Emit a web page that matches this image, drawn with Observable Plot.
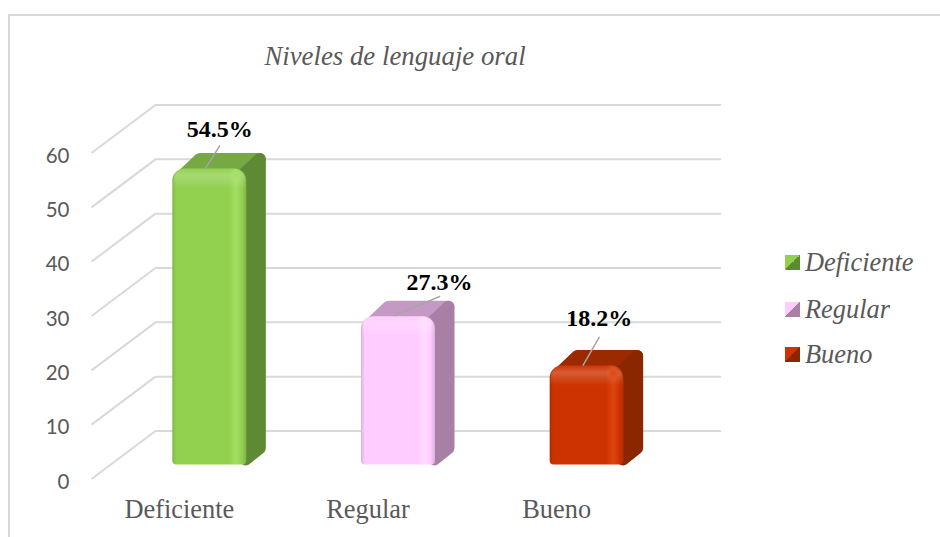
<!DOCTYPE html>
<html>
<head>
<meta charset="utf-8">
<script src="https://cdn.jsdelivr.net/npm/d3@7"></script>
<script src="https://cdn.jsdelivr.net/npm/@observablehq/plot@0.6"></script>
<style>
html,body{margin:0;padding:0;background:#fff;width:940px;height:537px;overflow:hidden}
#page{position:relative;width:940px;height:537px;overflow:hidden}
#edge{position:absolute;left:8px;top:14px;width:940px;height:540px;border-left:2px solid #d9d9d9;border-top:2px solid #d9d9d9;box-sizing:border-box}
#title{position:absolute;left:195px;width:400px;top:41px;text-align:center;font:italic 26.8px "Liberation Serif",serif;color:#595959}
#chart{position:absolute;left:0;top:0}
.lg{position:absolute;left:785px;font:italic 26.4px "Liberation Serif",serif;color:#595959;white-space:nowrap;line-height:30px;height:30px}
.lg i{position:absolute;left:0;top:8px;width:15px;height:15px}
.lg span{position:absolute;left:20px;top:0}
</style>
</head>
<body>
<div id="page">
<div id="edge"></div>
<div id="title">Niveles de lenguaje oral</div>
<div id="chart"></div>
<div id="legend"></div>
</div>
<script>
const categories = ["Deficiente", "Regular", "Bueno"];
const values = [54.5, 27.3, 18.2];
const labels = ["54.5%", "27.3%", "18.2%"];
const yTicks = [0, 10, 20, 30, 40, 50, 60];
const frontColors = ["#92d050", "#ffccff", "#cc3300"];
const edgeColors = ["#7fb545", "#ddb0dd", "#b02c00"];
const glowColors = ["#a2de62", "#ffdcff", "#dc4410"];
const topColors = ["#76a844", "#c49ac4", "#9c2a00"];
const sideColors = ["#5e8a35", "#a880a6", "#8a2600"];

const W = 940, H = 537;
const mL = 91, mR = 283, mT = 152.5, mB = 58.5;
const X = p => p * 3 / (W - mL - mR);
const V = p => p * 60 / (H - mT - mB);

const barCenter = i => i + 0.5;
const halfBar = X(37);
const depthX = X(19), depthV = V(16);
const corner = 6;
const shift = {dx: 24, dy: -14};

const defs = () => {
  const d = d3.create("svg:defs");
  categories.forEach((c, i) => {
    const g = d.append("linearGradient").attr("id", "front" + i);
    [[0, edgeColors[i]], [0.05, frontColors[i]], [0.76, frontColors[i]], [0.86, glowColors[i]],
     [0.94, frontColors[i]], [1, edgeColors[i]]].forEach(([o, col]) =>
      g.append("stop").attr("offset", o).attr("stop-color", col));
    const r = d.append("radialGradient").attr("id", "spot" + i);
    r.append("stop").attr("offset", 0).attr("stop-color", glowColors[i]);
    r.append("stop").attr("offset", 1).attr("stop-color", glowColors[i]).attr("stop-opacity", 0);
  });
  const t = d.append("linearGradient").attr("id", "bevel").attr("x2", 0).attr("y2", 1);
  t.append("stop").attr("offset", 0).attr("stop-color", "#fff").attr("stop-opacity", 0.02);
  t.append("stop").attr("offset", 0.35).attr("stop-color", "#fff").attr("stop-opacity", 0.2);
  t.append("stop").attr("offset", 1).attr("stop-color", "#fff").attr("stop-opacity", 0);
  return d.node();
};

const barMarks = categories.flatMap((c, i) => {
  const v = values[i], x1 = barCenter(i) - halfBar, x2 = barCenter(i) + halfBar;
  const top = [
    [x1 + X(7), v - V(9)],
    [x1 + depthX + X(8), v + depthV - V(corner)],
    [x2 + depthX - X(corner), v + depthV - V(corner)],
    [x2, v - V(8)]
  ];
  const side = [
    [x2 - X(1), V(5.6)],
    [x2 + depthX - X(corner), V(17)],
    [x2 + depthX - X(corner), v + depthV - V(corner)],
    [x2 - X(4), v - V(6)]
  ];
  const poly = (pts, col) => Plot.line(pts, {
    x: "0", y: "1", curve: "linear-closed", fill: col, stroke: col,
    strokeWidth: corner * 2, strokeLinejoin: "round", ...shift
  });
  return [
    poly(top, topColors[i]),
    poly(side, sideColors[i]),
    Plot.rect([v], {x1: x1, x2: x2, y1: 0, y2: d => d, fill: "url(#front" + i + ")", ry1: 4, ry2: 12, ...shift}),
    Plot.rect([v], {x1: x1 + X(1), x2: x2 - X(1), y1: d => d - V(20), y2: d => d, fill: "url(#bevel)", ry2: 12, ...shift}),
    Plot.dot([v], {x: x2 - X(11), y: d => d - V(7), r: 6, fill: "url(#spot" + i + ")", ...shift})
  ];
});

const leader = {draw(ctx, l) { ctx.moveTo(0, 0); ctx.lineTo(0, -l); }};
const leaderMark = (i, length, rotate) => Plot.vector([values[i]], {
  x: barCenter(i), y: d => d, length, rotate, anchor: "start", shape: leader,
  stroke: "#a6a6a6", strokeWidth: 1.5, dx: 20, dy: -15
});
const labelMark = (i, dx, dy) => Plot.text([values[i]], {
  x: barCenter(i), y: d => d, text: () => labels[i], dx: 24 + dx, dy: -14 + dy,
  fontFamily: "Liberation Serif", fontWeight: "bold", fontSize: 24, fill: "#000"
});

const plot = Plot.plot({
  width: W, height: H,
  marginLeft: mL, marginRight: mR, marginTop: mT, marginBottom: mB,
  x: {domain: [0, 3]},
  y: {domain: [0, 60]},
  marks: [
    defs,
    Plot.ruleY(yTicks, {x1: 0, x2: 3, dx: 64, dy: -48, stroke: "#d9d9d9", strokeWidth: 2}),
    Plot.link(yTicks, {x1: 0, x2: X(64), y1: d => d, y2: d => d + V(48), stroke: "#d9d9d9", strokeWidth: 2}),
    Plot.axisY(yTicks, {anchor: "left", tickSize: 0, tickPadding: 22, label: null, dy: 3, fontFamily: "Lato", fontSize: 20.5, color: "#595959"}),
    Plot.axisX(categories.map((c, i) => barCenter(i)), {
      anchor: "bottom", tickSize: 0, tickPadding: 20, label: null, dx: -6.5,
      tickFormat: d => categories[d - 0.5],
      fontFamily: "Liberation Serif", fontSize: 26.4, color: "#595959"
    }),
    ...barMarks,
    leaderMark(0, 26, 32),
    leaderMark(1, 49, 67),
    leaderMark(2, 32, 30),
    labelMark(0, 10, -40),
    labelMark(1, 41, -34),
    labelMark(2, 12, -48)
  ]
});
document.getElementById("chart").appendChild(plot);

const legendTops = [247, 294, 339];
categories.forEach((c, i) => {
  const row = document.createElement("div");
  row.className = "lg";
  row.style.top = legendTops[i] + "px";
  const sw = document.createElement("i");
  sw.style.background = `linear-gradient(135deg, ${frontColors[i]} 50%, ${sideColors[i]} 50%)`;
  const tx = document.createElement("span");
  tx.textContent = c;
  row.append(sw, tx);
  document.getElementById("legend").appendChild(row);
});
</script>
</body>
</html>
